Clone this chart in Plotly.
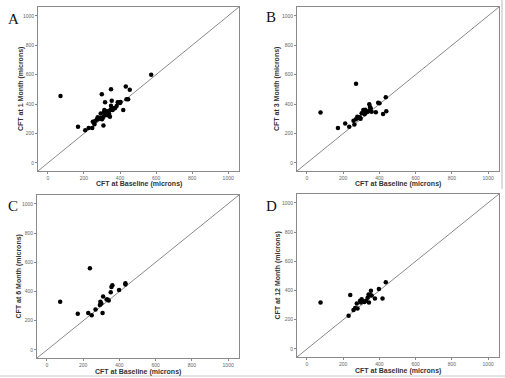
import plotly.graph_objects as go

# ---- data ----
a_base = [70, 573, 299, 350, 432, 454, 436, 445, 317, 354, 387, 400, 350, 418, 167, 207, 226, 246, 308,
          249, 258, 271, 280, 286, 293, 302, 311, 313, 320, 326, 330, 335, 340, 344, 352, 359, 364, 372,
          381, 390, 403, 300, 318, 336, 262, 276, 323, 347, 309, 290]
a_m1 = [455, 600, 467, 501, 519, 497, 433, 433, 412, 423, 413, 408, 389, 359, 245, 222, 237, 237, 254,
        279, 262, 293, 300, 302, 336, 304, 345, 359, 330, 325, 348, 350, 333, 313, 365, 359, 372, 371,
        387, 410, 414, 297, 340, 322, 285, 310, 352, 362, 316, 305]

b_base = [75, 271, 171, 211, 233, 257, 262, 278, 302, 311, 344, 357, 380, 393, 400, 420, 435, 438,
          285, 292, 318, 325, 333, 340, 348, 352, 296, 322, 270]
b_m3 = [343, 538, 238, 268, 245, 286, 261, 313, 337, 359, 398, 347, 345, 409, 405, 332, 446, 352,
        305, 310, 330, 342, 348, 352, 380, 372, 300, 362, 296]

c_base = [73, 237, 170, 228, 247, 268, 292, 295, 300, 310, 307, 329, 341, 352, 356, 361, 398, 433, 433, 335]
c_m6 = [329, 559, 247, 252, 238, 277, 307, 329, 318, 366, 252, 346, 339, 394, 431, 442, 410, 456, 448, 345]

d_base = [75, 239, 230, 257, 266, 275, 279, 293, 298, 302, 317, 326, 335, 342, 348, 353, 357, 375, 397,
          417, 435, 340]
d_m12 = [318, 369, 227, 266, 281, 311, 277, 329, 318, 340, 322, 329, 351, 318, 369, 398, 365, 345, 410,
         345, 456, 372]

tick_vals = [0, 200, 400, 600, 800, 1000]
tick_text = ["0", "200", "400", "600", "800", "1000"]
axis_range = [-55, 1060]
x_title = "CFT at Baseline (microns)"
y_titles = ["CFT at 1 Month (microns)", "CFT at 3 Month (microns)",
            "CFT at 6 Month (microns)", "CFT at 12 Month (microns)"]
panel_letters = ["A", "B", "C", "D"]

panels = [(a_base, a_m1), (b_base, b_m3), (c_base, c_m6), (d_base, d_m12)]

W, H = 505, 378
# frame boxes in pixels: (left, right, top, bottom)
boxes = [(38, 239, 7, 171), (297, 499, 7, 171), (37, 239, 195, 358), (297, 499, 194, 357)]
# label positions in pixels
letter_pos = [(13, 19), (271, 17), (13, 206), (271, 206)]
xtitle_y = [184, 184, 372, 371]
ytitle_x = [21, 277, 18, 277]

fig = go.Figure()
layout = dict(width=W, height=H, margin=dict(l=0, r=0, t=0, b=0, autoexpand=False),
              paper_bgcolor="white", plot_bgcolor="white", showlegend=False,
              font=dict(family="Liberation Sans, Arial", color="#222"))

annotations = []
shapes = []
for i, ((xs, ys), (l, r, t, b)) in enumerate(zip(panels, boxes)):
    n = "" if i == 0 else str(i + 1)
    xa, ya = "x" + n, "y" + n
    fig.add_trace(go.Scatter(x=axis_range, y=axis_range, mode="lines",
                             line=dict(color="#8a8a8a", width=1),
                             xaxis=xa, yaxis=ya, hoverinfo="skip"))
    fig.add_trace(go.Scatter(x=xs, y=ys, mode="markers",
                             marker=dict(color="black", size=4.5),
                             xaxis=xa, yaxis=ya))
    common = dict(range=axis_range, tickvals=tick_vals, ticktext=tick_text,
                  showgrid=False, zeroline=False, showline=True, mirror=True,
                  linecolor="#8a8a8a", linewidth=1, ticks="outside", ticklen=2,
                  tickcolor="#8a8a8a", tickfont=dict(size=5, color="#666"),
                  automargin=False)
    layout["xaxis" + n] = dict(common, domain=[l / W, r / W], anchor=ya)
    layout["yaxis" + n] = dict(common, domain=[1 - b / H, 1 - t / H], anchor=xa)
    annotations.append(dict(text=panel_letters[i], x=letter_pos[i][0] / W,
                            y=1 - letter_pos[i][1] / H, xanchor="center", yanchor="middle",
                            xref="paper", yref="paper", showarrow=False,
                            font=dict(family="Liberation Serif, Times New Roman", size=15,
                                      color="#111")))
    annotations.append(dict(text="<b>" + x_title + "</b>", x=(l + r) / 2 / W,
                            y=1 - xtitle_y[i] / H, xanchor="center", yanchor="middle",
                            xref="paper", yref="paper", showarrow=False,
                            font=dict(size=7, color="#333")))
    annotations.append(dict(text="<b>" + y_titles[i] + "</b>", x=ytitle_x[i] / W,
                            y=1 - (t + b) / 2 / H, xanchor="center", yanchor="middle",
                            textangle=-90, xref="paper", yref="paper", showarrow=False,
                            font=dict(size=7, color="#333")))

shapes.append(dict(type="line", xref="paper", yref="paper", x0=502 / W, x1=502 / W,
                   y0=1 - 189 / H, y1=1, line=dict(color="#dddddd", width=2)))
shapes.append(dict(type="line", xref="paper", yref="paper", x0=0, x1=1,
                   y0=1 - 376 / H, y1=1 - 376 / H, line=dict(color="#dddddd", width=1.5)))

layout["annotations"] = annotations
layout["shapes"] = shapes
fig.update_layout(**layout)
fig.write_html("out.html", config={"displayModeBar": False},
               post_script="document.body.style.margin='0';document.body.style.overflow='hidden';")
